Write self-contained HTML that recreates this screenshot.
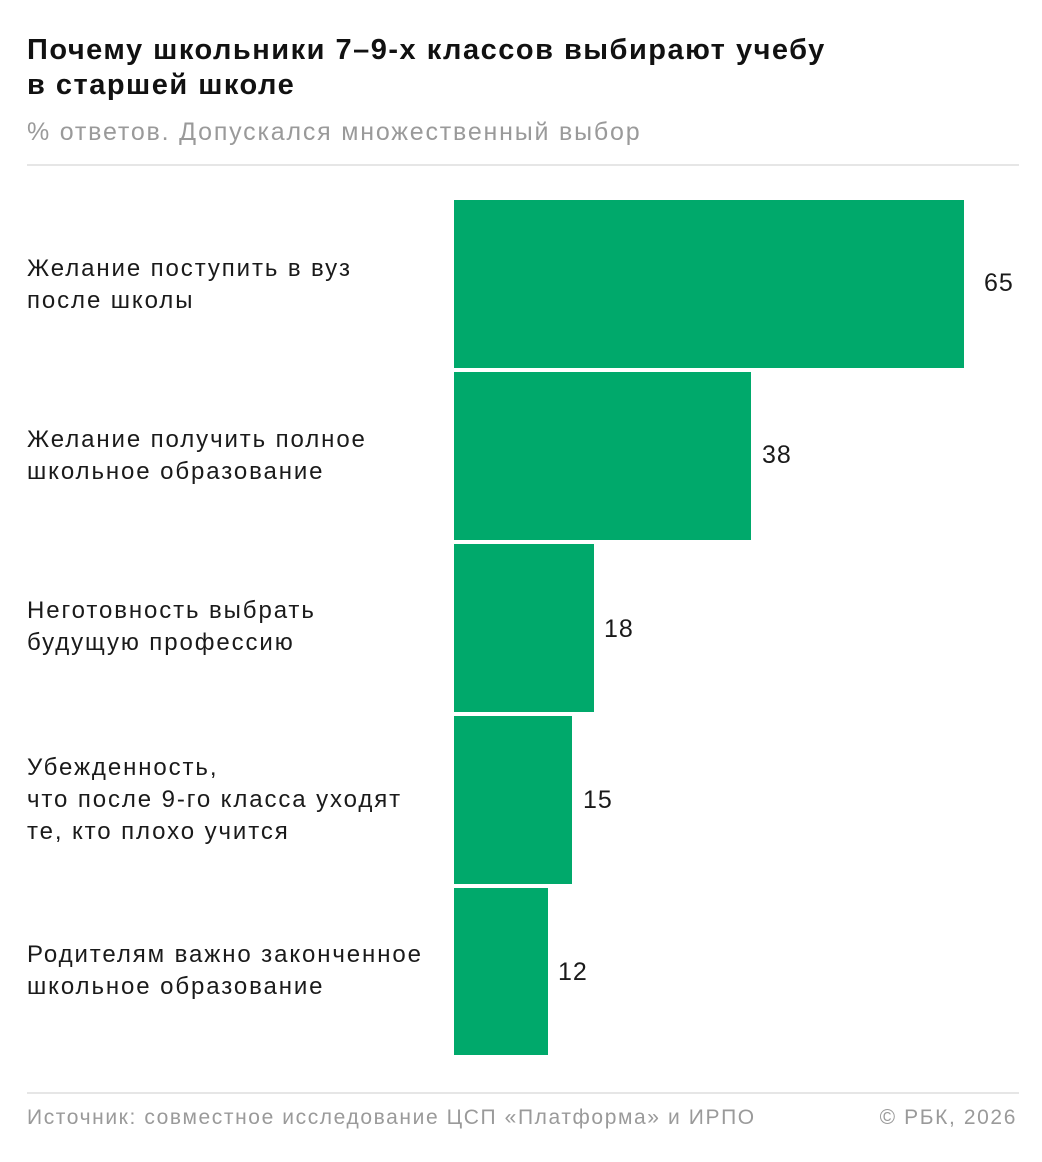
<!DOCTYPE html>
<html><head><meta charset="utf-8"><style>
body{margin:0;width:1042px;height:1162px;background:#fff;position:relative;overflow:hidden;font-family:"Liberation Sans","DejaVu Sans",sans-serif;}
.t{position:absolute;left:27px;top:33px;font-size:29px;font-weight:bold;line-height:35px;color:#111;letter-spacing:1.5px}
.s{position:absolute;left:27px;top:118px;font-size:25px;color:#9a9a9a;letter-spacing:1.8px}
.hr{position:absolute;left:27px;right:23px;height:2px;background:#e6e6e6}
.b{position:absolute;left:454px;background:#00a96b;height:168px}
.l{position:absolute;left:27px;font-size:24px;line-height:32px;color:#1a1a1a;letter-spacing:1.9px}
.v{position:absolute;font-size:25px;color:#1a1a1a;letter-spacing:1px}
.f{position:absolute;top:1106px;font-size:21px;color:#9a9a9a;letter-spacing:1.6px}
</style></head><body>
<div class="t">Почему школьники 7–9-х классов выбирают учебу<br>в старшей школе</div>
<div class="s">% ответов. Допускался множественный выбор</div>
<div class="hr" style="top:164px"></div>
<div class="b" style="top:200px;width:510px"></div>
<div class="b" style="top:372px;width:297px"></div>
<div class="b" style="top:544px;width:140px"></div>
<div class="b" style="top:716px;width:118px"></div>
<div class="b" style="top:888px;width:94px;height:167px"></div>
<div class="l" style="top:253px">Желание поступить в вуз<br>после школы</div>
<div class="l" style="top:424px">Желание получить полное<br>школьное образование</div>
<div class="l" style="top:595px">Неготовность выбрать<br>будущую профессию</div>
<div class="l" style="top:752px">Убежденность,<br>что после 9-го класса уходят<br>те, кто плохо учится</div>
<div class="l" style="top:939px">Родителям важно законченное<br>школьное образование</div>
<div class="v" style="left:984px;top:269px">65</div>
<div class="v" style="left:762px;top:441px">38</div>
<div class="v" style="left:604px;top:615px">18</div>
<div class="v" style="left:583px;top:786px">15</div>
<div class="v" style="left:558px;top:958px">12</div>
<div class="hr" style="top:1092px"></div>
<div class="f" style="left:27px">Источник: совместное исследование ЦСП «Платформа» и ИРПО</div>
<div class="f" style="right:25px">© РБК, 2026</div>
</body></html>
